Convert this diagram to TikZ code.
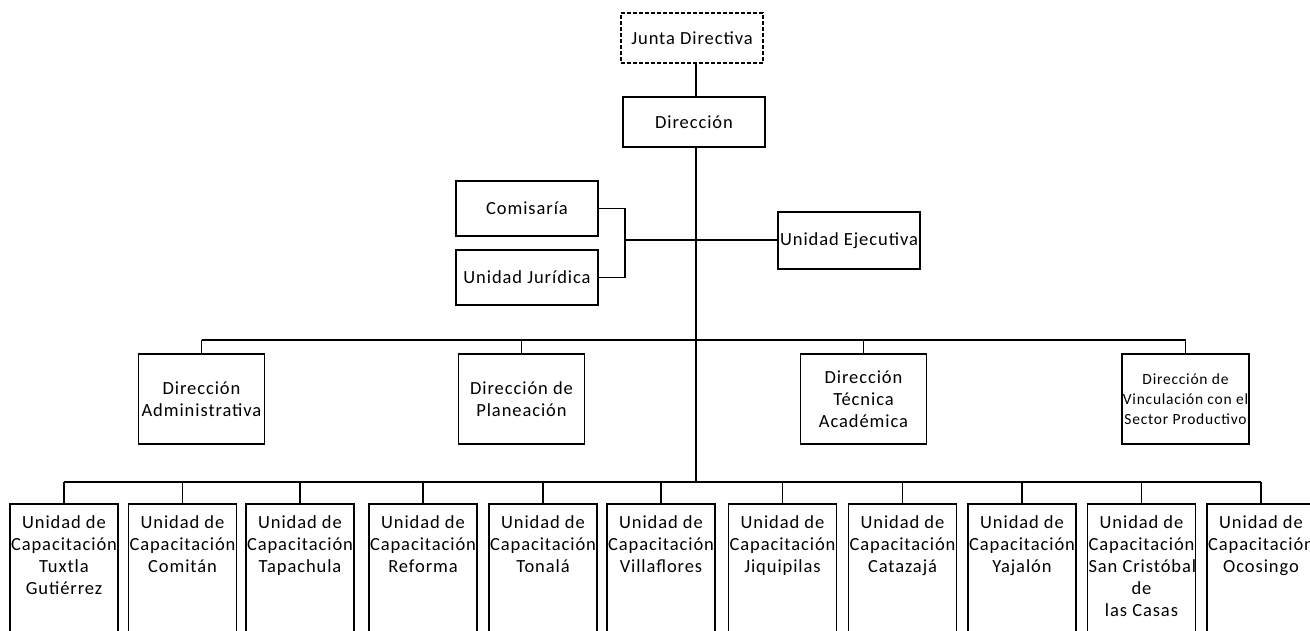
\documentclass[tikz,border=0pt]{standalone}
\usepackage{fontspec}
\setmainfont{Carlito}[LetterSpace=5.0]
\usetikzlibrary{positioning}

\tikzset{
  orgbox/.style={draw, line width=1.5pt, align=center, inner sep=1pt,
    font=\fontsize{18.5}{22}\selectfont},
  topbox/.style={orgbox, minimum width=142pt, minimum height=50pt},
  sidebox/.style={orgbox, minimum width=142pt, minimum height=55pt},
  dirbox/.style={orgbox, minimum width=126pt, minimum height=90pt},
  unitbox/.style={draw, line width=1.5pt, anchor=north, inner xsep=1pt, inner ysep=12pt,
    font=\fontsize{18.5}{22}\selectfont},
  link/.style={line width=1.5pt}
}

\begin{document}
\begin{tikzpicture}[x=1pt, y=-1pt]
  \useasboundingbox (0,0) rectangle (1310,630);
  \clip (0,0) rectangle (1310,630);
  % upper levels
  \node[topbox, dash pattern=on 4pt off 2pt] (junta) at (692,38) {Junta Directiva};
  \node[topbox] (dir) at (694,122) {Dirección};
  \node[sidebox] (com) at (527,208.5) {Comisaría};
  \node[sidebox] (jur) at (527,277.5) {Unidad Jurídica};
  \node[orgbox, minimum width=142pt, minimum height=57pt] (eje) at (849,240.5) {Unidad Ejecutiva};
  \coordinate (brk) at (625,240);
  \coordinate (midbus) at (0,340);
  \coordinate (lowbus) at (0,482);
  \draw[link] (junta.south -| 696,0) -- (dir.north -| 696,0);
  \draw[link] (dir.south -| 696,0) -- (696,482);
  \draw[link] (com.east) -| (brk);
  \draw[link] (jur.east) -| (brk);
  \draw[link] (brk) -- (eje.west |- brk);
  % direcciones
  \node[dirbox] (adm) at (201.5,399) {Dirección\\Administrativa};
  \node[dirbox] (pla) at (521.5,399) {Dirección de\\Planeación};
  \node[dirbox] (tec) at (863.5,399) {Dirección\\Técnica\\Académica};
  \node[dirbox, font=\fontsize{15.5}{20}\selectfont] (vin) at (1185.5,399)
    {Dirección de\\Vinculación con el\\Sector Productivo};
  \draw[link] (adm.north |- midbus) -- (vin.north |- midbus);
  \foreach \d in {adm,pla,tec,vin}
    \draw[link] (\d.north) -- (\d.north |- midbus);
  % unidades de capacitacion
  \foreach \x/\i/\txt in {64/1/Tuxtla\\Gutiérrez, 182.5/2/Comitán, 300/3/Tapachula,
      423/4/Reforma, 543/5/Tonalá, 661/6/Villaflores, 782.5/7/Jiquipilas,
      902.5/8/Catazajá, 1022/9/Yajalón, 1141.5/10/\mbox{San Cristóbal}\\de\\las Casas,
      1261/11/Ocosingo} {
    \node[unitbox] (u\i) at (\x,503)
      {\parbox[t][140pt][t]{106pt}{\centering Unidad de\\Capacitación\\\txt}};
    \draw[link] (u\i.north) -- (u\i.north |- lowbus);
  }
  \draw[link] (u1.north |- lowbus) -- (u11.north |- lowbus);
\end{tikzpicture}
\end{document}
